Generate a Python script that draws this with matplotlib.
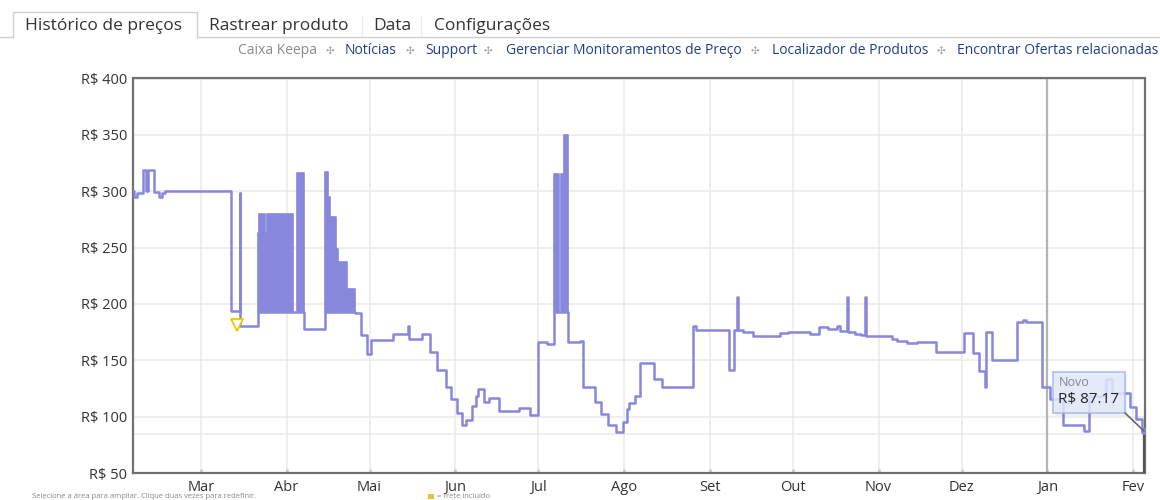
import numpy as np
import pandas as pd
import matplotlib
matplotlib.use("Agg")
import matplotlib.pyplot as plt
import matplotlib.dates as mdates
from matplotlib.patches import Rectangle, ConnectionPatch
from matplotlib.lines import Line2D

plt.rcParams['font.family'] = ['Open Sans', 'DejaVu Sans']

# price history: date where each price starts, price (R$)
dates = ["2022-02-04", "2022-02-05", "2022-02-06", "2022-02-08", "2022-02-09 06:00",
         "2022-02-09 18:00", "2022-02-12", "2022-02-14", "2022-02-15", "2022-02-16",
         "2022-03-12", "2022-03-15", "2022-03-15 08:00", "2022-03-21 14:00", "2022-04-07 08:00",
         "2022-04-14 22:00", "2022-04-25 20:00", "2022-04-27 20:00", "2022-04-30", "2022-05-01 16:00",
         "2022-05-09 08:00", "2022-05-15", "2022-05-15 10:00", "2022-05-19 22:00", "2022-05-23",
         "2022-05-25 12:00", "2022-05-28 16:00", "2022-05-30 12:00", "2022-06-01 12:00", "2022-06-03 08:00",
         "2022-06-04 20:00", "2022-06-07 04:00", "2022-06-08 12:00", "2022-06-09 08:00", "2022-06-11 10:00",
         "2022-06-13 08:00", "2022-06-16 20:00", "2022-06-24 04:00", "2022-06-27 20:00", "2022-07-01",
         "2022-07-04", "2022-07-06 16:00", "2022-07-11 16:00", "2022-07-16", "2022-07-17",
         "2022-07-21 12:00", "2022-07-23 16:00", "2022-07-26 08:00", "2022-07-29", "2022-07-31 12:00",
         "2022-08-02", "2022-08-02 22:00", "2022-08-05", "2022-08-06 20:00", "2022-08-12",
         "2022-08-14 14:00", "2022-08-26", "2022-08-27", "2022-09-08", "2022-09-09 22:00",
         "2022-09-11", "2022-09-11 08:00", "2022-09-13", "2022-09-16 16:00", "2022-09-26 10:00",
         "2022-09-29 10:00", "2022-10-07 04:00", "2022-10-10 12:00", "2022-10-13 22:00", "2022-10-16 22:00",
         "2022-10-18", "2022-10-20 12:00", "2022-10-20 20:00", "2022-10-23 12:00", "2022-10-25 14:00",
         "2022-10-27", "2022-10-27 08:00", "2022-11-05 20:00", "2022-11-07 14:00", "2022-11-11 04:00",
         "2022-11-14 20:00", "2022-11-21 20:00", "2022-12-02", "2022-12-05 08:00", "2022-12-07 10:00",
         "2022-12-09 12:00", "2022-12-10", "2022-12-11 22:00", "2022-12-21", "2022-12-23 08:00",
         "2022-12-24 08:00", "2022-12-30", "2023-01-02", "2023-01-06 14:00", "2023-01-14 08:00",
         "2023-01-16 02:00", "2023-01-22 02:00", "2023-01-24 08:00", "2023-01-30 22:00", "2023-02-02 02:00",
         "2023-02-04 02:00", "2023-02-05"]
prices = [300, 295, 298, 319, 300,
          319, 299, 295, 298, 300,
          194, 298, 180, 193, 177.5,
          193, 192, 172.5, 155.5, 168,
          173.4, 180, 169, 173.4, 157,
          141, 126.7, 115.4, 103, 92.6,
          97, 109, 118.4, 124.3, 113.3,
          116.8, 105.3, 107.4, 101.5, 166,
          164.5, 193, 166, 167, 126.7,
          113.3, 102.4, 92.6, 86.1, 95.6,
          106.6, 112, 118.4, 147.3, 133.2,
          126, 180.4, 177, 141.4, 177,
          206, 177, 174.9, 171.6, 174,
          175.4, 173.3, 179.9, 177.5, 180.4,
          176.4, 206, 175.4, 173.3, 172.5,
          206, 171.6, 168.6, 167.1, 165.6,
          166.2, 157.6, 174, 156.2, 140.8,
          126, 174.9, 150.3, 184.3, 185.5,
          183.7, 126, 115.4, 92.6, 87.6,
          118, 133.4, 120.7, 108.3, 97.6,
          87.17, 87.17]

# periods where the price flickered too fast to separate -> solid blocks
band_start = ["2022-03-21 14:00", "2022-03-22 05:00", "2022-03-24 05:00", "2022-03-24 22:00", "2022-04-04 20:00",
              "2022-04-14 22:00", "2022-04-15 20:00", "2022-04-16 17:00", "2022-04-18 22:00", "2022-04-19 17:00",
              "2022-04-23 00:00", "2022-07-06 16:00", "2022-07-09 02:00", "2022-07-10 10:00"]
band_end = ["2022-03-22 05:00", "2022-03-24 05:00", "2022-03-24 22:00", "2022-04-03 12:00", "2022-04-07 08:00",
            "2022-04-15 20:00", "2022-04-16 17:00", "2022-04-18 22:00", "2022-04-19 17:00", "2022-04-23 00:00",
            "2022-04-25 20:00", "2022-07-08 14:00", "2022-07-10 10:00", "2022-07-11 16:00"]
band_high = [263, 280, 263, 280, 316, 317, 295, 277, 249, 237, 213, 315, 315, 350]
band_low = 193

# shipping-included marker
ship_date = "2022-03-14 06:00"
ship_price = 181

last_date = "2023-02-05"
last_price = 87.17

month_ticks = pd.date_range("2022-03-01", "2023-02-01", freq="MS")
month_labels = ["Mar", "Abr", "Mai", "Jun", "Jul", "Ago", "Set", "Out", "Nov", "Dez", "Jan", "Fev"]
y_ticks = [50, 100, 150, 200, 250, 300, 350, 400]

tabs = ["Histórico de preços", "Rastrear produto", "Data", "Configurações"]
links = ["Notícias", "Support", "Gerenciar Monitoramentos de Preço", "Localizador de Produtos",
         "Encontrar Ofertas relacionadas"]

line_c = "#8787dc"
grid_c = "#ebebeb"

W, H = 1160, 500
fig = plt.figure(figsize=(W / 100, H / 100), dpi=100)
fig.patch.set_facecolor("white")

def px(x, y):
    return x / W, 1 - y / H

ax = fig.add_axes([133 / W, 27 / H, (1145 - 133) / W, (473 - 78.5) / H])

d = pd.to_datetime(dates, format="mixed")
ax.step(d, prices, where="post", color=line_c, lw=1.8, zorder=3)

for s, e, h in zip(band_start, band_end, band_high):
    xs = pd.to_datetime([s, e], format="mixed")
    ax.fill_between(xs, band_low, h, facecolor=line_c, edgecolor=line_c, lw=1.2, zorder=3)

ax.plot(pd.to_datetime(ship_date), ship_price, marker="v", ms=8, mfc="white",
        mec="#e8c800", mew=1.3, zorder=4)

# year line
ax.axvline(pd.to_datetime("2023-01-01"), color="#b4b4b4", lw=1.6, zorder=2)

# last price marker and guide
ld = pd.to_datetime(last_date)
ax.vlines(ld, 50, last_price, color="#555555", lw=1.6, zorder=5)
ax.plot(ld, last_price, "o", color=line_c, ms=4, zorder=6)

ax.set_xlim(pd.to_datetime("2022-02-04 12:00"), pd.to_datetime("2023-02-05 08:00"))
ax.set_ylim(50, 400)
ax.set_xticks(month_ticks)
ax.set_xticklabels(month_labels)
ax.set_yticks(y_ticks)
ax.set_yticklabels(["R$ %d" % v for v in y_ticks])
ax.grid(True, color=grid_c, lw=1.2, zorder=0)
ax.axhline(84.7, color=grid_c, lw=1.2, zorder=0)
ax.set_axisbelow(True)
ax.tick_params(axis="x", direction="in", length=3, width=2, color="#cccccc",
               labelsize=10.5, labelcolor="#333333", pad=5)
ax.tick_params(axis="y", length=0, labelsize=10.5, labelcolor="#333333", pad=4)
for side in ["left", "bottom", "top", "right"]:
    ax.spines[side].set_color("#707070")
    ax.spines[side].set_linewidth(1.6)

# tooltip
bx0, by0 = px(1053, 413)
bx1, by1 = px(1125, 372)
fig.patches.append(Rectangle((bx0 + 0.002, by0 - 0.005), bx1 - bx0, by1 - by0, transform=fig.transFigure,
                             facecolor="#000000", alpha=0.06, lw=0, zorder=6))
fig.patches.append(Rectangle((bx0, by0), bx1 - bx0, by1 - by0, transform=fig.transFigure,
                             facecolor="#e4eafc", alpha=0.85, edgecolor="#a3b2ef", lw=1.2, zorder=7))
fig.text(*px(1059, 383), "Novo", color="#888888", fontsize=9, va="center", zorder=8)
fig.text(*px(1058, 400), "R$ 87.17", color="#222222", fontsize=11, va="center", zorder=8)
con = ConnectionPatch(xyA=px(1125, 413), coordsA=fig.transFigure,
                      xyB=(mdates.date2num(ld), last_price),
                      coordsB=ax.transData, color="#666666", lw=1.2, zorder=8)
fig.add_artist(con)

# tab bar
tab_line = "#cfcfcf"
fig.add_artist(Line2D([0, 13 / W], [1 - 37 / H] * 2, transform=fig.transFigure, color=tab_line, lw=1))
fig.add_artist(Line2D([197 / W, 1], [1 - 37 / H] * 2, transform=fig.transFigure, color=tab_line, lw=1))
fig.add_artist(Line2D([13 / W, 13 / W, 197 / W, 197 / W], [1 - 37 / H, 1 - 12 / H, 1 - 12 / H, 1 - 37 / H],
                      transform=fig.transFigure, color=tab_line, lw=1))
for sx in [362, 421]:
    fig.add_artist(Line2D([sx / W] * 2, [1 - 35 / H, 1 - 16 / H], transform=fig.transFigure,
                          color="#ececec", lw=1))
tab_x = [25, 209, 373, 434]
for t, x in zip(tabs, tab_x):
    fig.text(*px(x, 26), t, fontsize=12.5, color="#333333", va="center")

# link row
fig.text(*px(238, 51), "Caixa Keepa", fontsize=10, color="#8a8a8a", va="center")
link_x = [345, 425, 506, 772, 957]
sep_x = [330, 410, 488, 755, 941]
for t, x in zip(links, link_x):
    fig.text(*px(x, 51), t, fontsize=10, color="#1f3f8f", va="center")
for x in sep_x:
    fig.text(*px(x, 51), "\u2723", fontsize=7.5, color="#a0a0a0", va="center", ha="center")

# legend line at the bottom (mostly below the visible area in the reference)
fig.text(*px(32, 499.5), "Selecione a área para ampliar. Clique duas vezes para redefinir.",
         fontsize=5.5, color="#888888", va="bottom")
fig.patches.append(Rectangle(px(428, 499), 6 / W, 5 / H, transform=fig.transFigure,
                             facecolor="#f0c030", lw=0))
fig.text(*px(437, 499.5), "= frete incluído", fontsize=5.5, color="#888888", va="bottom")

fig.savefig("out.png", dpi=100)
